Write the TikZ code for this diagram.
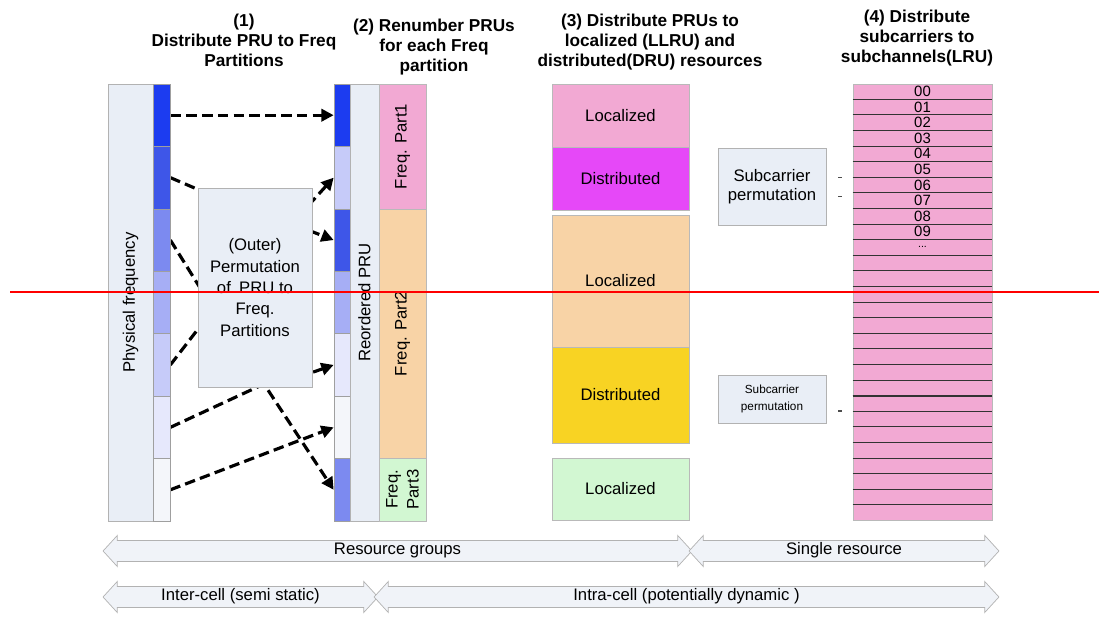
\documentclass[tikz,border=0pt]{standalone}
\usepackage{fontspec}
\setmainfont{Liberation Sans}
\usetikzlibrary{arrows.meta,positioning,calc,fit,backgrounds,shapes.arrows}

\definecolor{panelGray}{RGB}{233,238,246}
\definecolor{arrowGray}{RGB}{240,243,248}
\definecolor{pinkPart}{RGB}{242,169,211}
\definecolor{magentaPart}{RGB}{230,72,248}
\definecolor{orangePart}{RGB}{248,211,166}
\definecolor{yellowPart}{RGB}{248,211,35}
\definecolor{greenPart}{RGB}{210,247,210}
\definecolor{bluA}{RGB}{28,60,240}
\definecolor{bluB}{RGB}{62,86,232}
\definecolor{bluC}{RGB}{124,138,240}
\definecolor{bluD}{RGB}{166,174,245}
\definecolor{bluE}{RGB}{198,203,249}
\definecolor{bluF}{RGB}{230,232,252}
\definecolor{bluG}{RGB}{244,246,250}

\begin{document}
\begin{tikzpicture}[
    x=0.02cm, y=-0.02cm,
    font=\fontsize{9.5pt}{12pt}\selectfont,
    >=Triangle,
    panel/.style={
        rectangle,
        draw=gray!60,
        fill=panelGray,
        inner sep=0pt
    },
    segBox/.style={
        rectangle,
        draw=gray!75,
        inner sep=0pt
    },
    partBox/.style={
        rectangle,
        draw=gray!55,
        inner sep=0pt
    },
    boxText/.style={
        align=center,
        inner sep=0pt,
        font=\fontsize{9.5pt}{12pt}\selectfont
    },
    heading/.style={
        align=center,
        font=\fontsize{9.8pt}{11.4pt}\selectfont\bfseries
    },
    vLabel/.style={
        rotate=90,
        align=center
    },
    permArrow/.style={
        draw=black,
        line width=1.8pt,
        dash pattern=on 6pt off 3pt,
        -{Triangle[length=7pt,width=7pt]}
    },
    spanArrow/.style={
        double arrow,
        draw=gray!60,
        fill=arrowGray,
        double arrow head extend=0.1cm,
        double arrow tip angle=95,
        minimum width=0.6cm,
        text height=6pt,
        text depth=1.5pt,
        inner ysep=0.07cm,
        inner xsep=0pt
    },
    rowLine/.style={
        draw=gray!40!black,
        line width=0.5pt
    },
    rowNum/.style={
        inner sep=0pt,
        font=\fontsize{8.5pt}{8.5pt}\selectfont
    }
]
\useasboundingbox (0,0) rectangle (1099,617);

% ==================== HEADINGS ====================
\node[heading] (head1) at (244,40) {(1)\\Distribute PRU to Freq\\Partitions};
\node[heading] (head2) at (434,47) {(2) Renumber PRUs\\for each Freq\\partition};
\node[heading] (head3) at (650,42) {(3) Distribute PRUs to\\localized (LLRU) and\\distributed(DRU) resources};
\node[heading] (head4) at (917,38) {(4) Distribute\\subcarriers to\\subchannels(LRU)};

% ==================== (1) PHYSICAL FREQUENCY ====================
\node[panel, fit={(108,84) (153,521)}] (phys) {};
\node[vLabel] at (phys.center) {Physical frequency};
\foreach \c [count=\i] in {bluA,bluB,bluC,bluD,bluE,bluF,bluG}
    \node[segBox, fill=\c, fit={(153,{84+(\i-1)*62.43}) (170,{84+\i*62.43})}] (l\i) {};

% ==================== (2) REORDERED PRU ====================
\foreach \c [count=\i] in {bluA,bluE,bluB,bluD,bluF,bluG,bluC}
    \node[segBox, fill=\c, fit={(334,{84+(\i-1)*62.43}) (350,{84+\i*62.43})}] (r\i) {};
\node[panel, fit={(350,84) (379,521)}] (reorder) {};
\node[vLabel] at (reorder.center) {Reordered PRU};

\node[partBox, fill=pinkPart, fit={(379,84) (426,209)}] (part1) {};
\node[partBox, fill=orangePart, fit={(379,209) (426,458)}] (part2) {};
\node[partBox, fill=greenPart, fit={(379,458) (426,521)}] (part3) {};
\node[vLabel] at (part1.center) {Freq. Part1};
\node[vLabel] at (part2.center) {Freq. Part2};
\node[vLabel] at (part3.center) {Freq.\\Part3};

% Outer permutation box
\node[panel, fit={(198,188) (312,387)},
    label={[boxText, font=\fontsize{9.5pt}{12.2pt}\selectfont]center:(Outer)\\Permutation\\of\enspace PRU to\\Freq.\\Partitions}] (perm) {};

% Mapping arrows (pass behind the permutation box)
\begin{scope}[on background layer]
\draw[permArrow] (l1.east) -- (r1.west);
\draw[permArrow] (l2.east) -- (288,228) -- (r2.west);
\draw[permArrow] (l3.east) -- (212,307) -- (262,212) -- (r3.west);
\draw[permArrow] (l5.east) -- (215,307) -- (285,382) -- (r5.west);
\draw[permArrow] (l6.east) -- (264,384) -- (r7.west);
\draw[permArrow] (l7.east) -- (r6.west);
\end{scope}

% ==================== (3) LOCALIZED / DISTRIBUTED ====================
\node[partBox, fill=pinkPart, fit={(552,84) (689,147)}, label={[boxText]center:Localized}] (loc1) {};
\node[partBox, fill=magentaPart, fit={(552,147) (689,210)}, label={[boxText]center:Distributed}] (dis1) {};
\node[partBox, fill=orangePart, fit={(552,215) (689,347)}, label={[boxText]center:Localized}] (loc2) {};
\node[partBox, fill=yellowPart, fit={(552,347) (689,443)}, label={[boxText]center:Distributed}] (dis2) {};
\node[partBox, fill=greenPart, fit={(552,458) (689,520)}, label={[boxText]center:Localized}] (loc3) {};

% Subcarrier permutation
\node[panel, fit={(718,148) (826,225)},
    label={[boxText, font=\fontsize{9.5pt}{11pt}\selectfont]center:Subcarrier\\permutation}] (subPerm1) {};
\node[panel, fit={(718,375) (826,423)},
    label={[boxText, font=\fontsize{6.7pt}{10pt}\selectfont]center:Subcarrier\\permutation}] (subPerm2) {};
\draw[line width=1pt, gray!60!black] ($(subPerm1.east)+(12,-9)$) -- ++(4,0);
\draw[line width=1pt, gray!60!black] ($(subPerm1.east)+(12,10)$) -- ++(4,0);
\draw[line width=1pt, gray!60!black] ($(subPerm2.east)+(12,12)$) -- ++(4,0);

% ==================== (4) SUBCHANNELS ====================
\node[partBox, fill=pinkPart, fit={(853,84) (992,520)}] (subch) {};
\foreach \k in {1,...,27}
    \draw[rowLine] ($(subch.north west)!\k/28!(subch.south west)$) -- ($(subch.north east)!\k/28!(subch.south east)$);
\draw[rowLine, line width=1.1pt] ($(subch.north west)!20/28!(subch.south west)$) -- ($(subch.north east)!20/28!(subch.south east)$);
\foreach \n in {0,...,9}
    \node[rowNum] at ($(subch.north)!{(\n+0.5)/28}!(subch.south)$) {0\n};
\node[rowNum, font=\fontsize{6pt}{6pt}\selectfont] at ($(subch.north)!{10.5/28}!(subch.south)$) {...};

% ==================== SPAN ARROWS ====================
\node[spanArrow, minimum height=11.78cm] (resGroups) at (397.5,551) {Resource groups};
\node[spanArrow, minimum height=6.2cm] (singleRes) at (844,551) {Single resource};
\node[spanArrow, minimum height=5.5cm] (interCell) at (240.5,597) {Inter-cell (semi static)};
\node[spanArrow, minimum height=12.5cm] (intraCell) at (686.5,597) {Intra-cell (potentially dynamic )};

% marker line
\draw[red, line width=1.2pt] (10,292) -- (1099,292);

\end{tikzpicture}
\end{document}
